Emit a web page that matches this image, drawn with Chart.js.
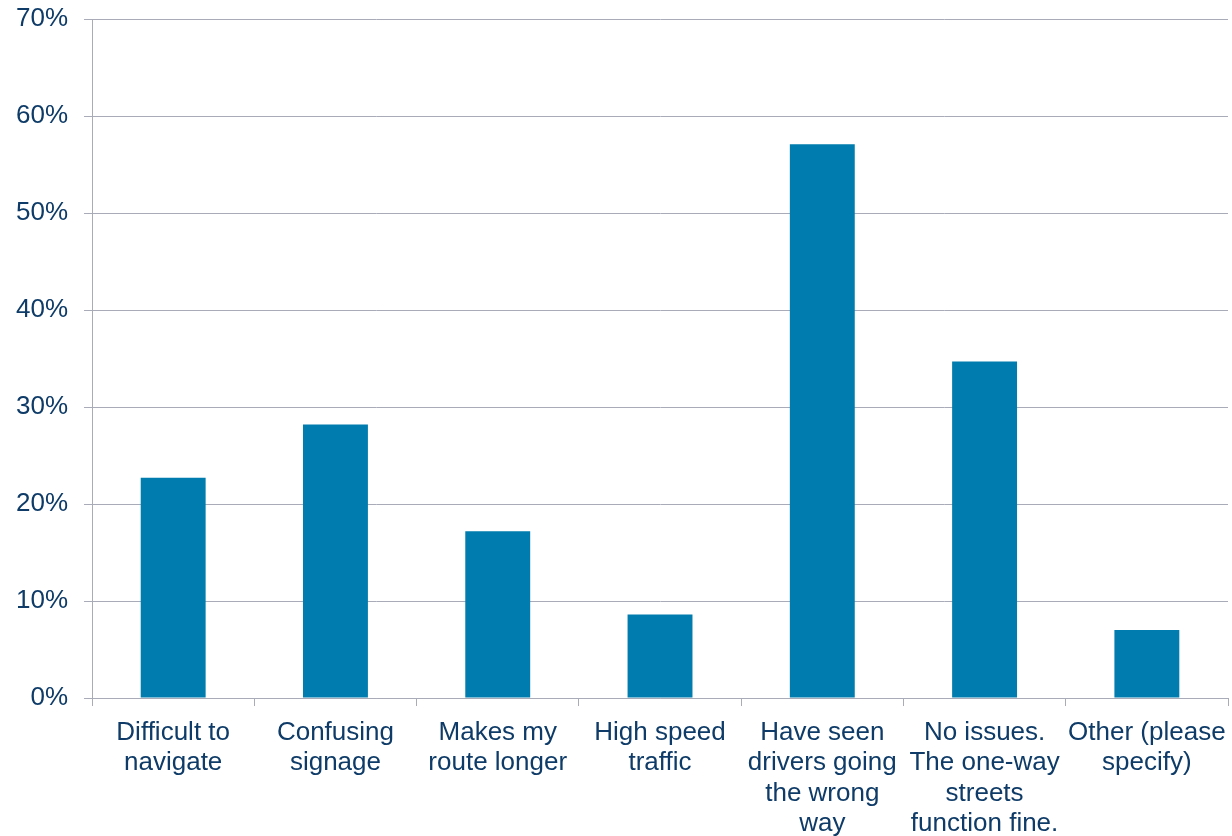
<!DOCTYPE html>
<html>
<head>
<meta charset="utf-8">
<script src="https://cdn.jsdelivr.net/npm/chart.js@4/dist/chart.umd.min.js"></script>
<style>
  html, body { margin: 0; padding: 0; background: #fff; }
  #wrap { width: 1232px; height: 836px; }
</style>
</head>
<body>
<div id="wrap"><canvas id="issues_chart"></canvas></div>
<script>
const bar_blue = "#007dae";
const navy_text = "#0e3b67";
const grid_grey = "#a9abb8";

// category labels, split into the lines shown under each bar
const categories = [
    ["Difficult to", "navigate"],
    ["Confusing", "signage"],
    ["Makes my", "route longer"],
    ["High speed", "traffic"],
    ["Have seen", "drivers going", "the wrong", "way"],
    ["No issues.", "The one-way", "streets", "function fine."],
    ["Other (please", "specify)"]
];
// percent of respondents
const responses = [22.7, 28.2, 17.2, 8.6, 57.1, 34.7, 7.0];
const y_max = 70;
const y_step = 10;

Chart.defaults.font.family = "'Liberation Sans', Arial, sans-serif";
Chart.defaults.font.size = 26;
Chart.defaults.color = navy_text;

const issues_config = {
    type: 'bar',
    data: {
        labels: categories,
        datasets: [{
            label: 'Responses',
            data: responses,
            backgroundColor: bar_blue,
            barPercentage: 0.4,
            categoryPercentage: 1.0
        }]
    },
    options: {
        maintainAspectRatio: false,
        responsive: true,
        animation: false,
        layout: { padding: { top: 19, right: 4, left: 0, bottom: 0 } },
        plugins: {
            legend: { display: false },
            tooltip: { enabled: false }
        },
        scales: {
            x: {
                grid: {
                    display: true,
                    drawOnChartArea: false,
                    drawTicks: true,
                    tickLength: 8,
                    color: grid_grey,
                    offset: true
                },
                border: { color: grid_grey, width: 1 },
                ticks: {
                    maxRotation: 0,
                    autoSkip: false,
                    padding: 12,
                    font: { size: 26, lineHeight: 1.16 }
                },
                // labels may run to the canvas edges, as in the reference
                afterFit: (scale) => {
                    scale.height = 138;
                    scale.paddingLeft = 0;
                    scale.paddingRight = 0;
                }
            },
            y: {
                min: 0,
                max: y_max,
                grid: {
                    color: grid_grey,
                    tickLength: 8
                },
                border: { color: grid_grey, width: 1 },
                ticks: {
                    stepSize: y_step,
                    padding: 16,
                    font: { size: 26 },
                    callback: (v) => v + '%'
                },
                afterFit: (scale) => {
                    scale.paddingTop = 0;
                    scale.paddingBottom = 0;
                }
            }
        }
    }
};
const ctx = document.getElementById("issues_chart");
const issues_chart = new Chart(ctx, issues_config);
</script>
</body>
</html>
